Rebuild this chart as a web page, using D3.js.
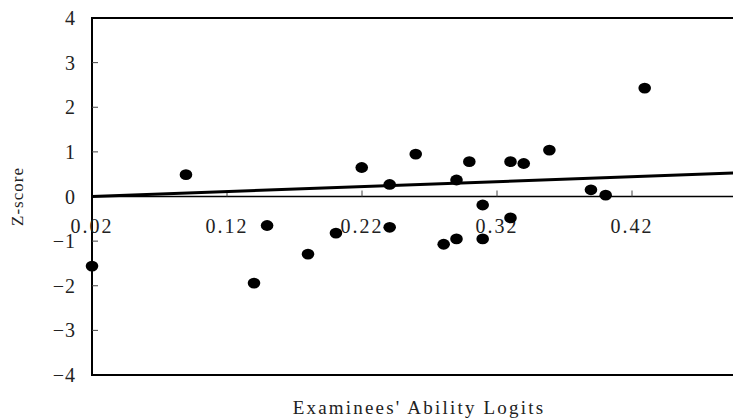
<!DOCTYPE html>
<html>
<head>
<meta charset="utf-8">
<script src="https://cdn.jsdelivr.net/npm/d3@7"></script>
<style>
  body { margin: 0; background: white; }
  text { font-family: 'Liberation Serif', 'DejaVu Serif', serif; fill: #222; }
</style>
</head>
<body>
<svg width="733" height="420"></svg>
<script>
const svg = d3.select('svg');

// ability logits (x) and z-scores (y)
const ability = [0.02, 0.0896, 0.14, 0.1497, 0.18, 0.2007, 0.2198, 0.2405, 0.2405, 0.2598,
  0.2805, 0.29, 0.29, 0.2995, 0.3094, 0.3094, 0.33, 0.33, 0.3398, 0.3588, 0.3896, 0.4005, 0.4294];
const zScore = [-1.56, 0.49, -1.94, -0.65, -1.29, -0.82, 0.65, 0.27, -0.69, 0.95,
  -1.07, -0.95, 0.37, 0.78, -0.19, -0.95, 0.78, -0.48, 0.74, 1.04, 0.15, 0.03, 2.43];

const xTicks = [0.02, 0.12, 0.22, 0.32, 0.42];
const yTicks = [-4, -3, -2, -1, 0, 1, 2, 3, 4];

// trend line: z = slope * (x - 0.02)
const trendX = [0.02, 0.5];
const trendY = [0, 0.53];

const margin = { left: 92, top: 18 };
const plotW = 648, plotH = 357;

const x = d3.scaleLinear().domain([0.02, 0.5]).range([margin.left, margin.left + plotW]);
const y = d3.scaleLinear().domain([-4, 4]).range([margin.top + plotH, margin.top]);

// frame
svg.append('rect')
  .attr('x', margin.left).attr('y', margin.top)
  .attr('width', plotW).attr('height', plotH)
  .attr('fill', 'none').attr('stroke', 'black').attr('stroke-width', 2);

// y ticks + labels
const yAxis = svg.append('g');
yAxis.selectAll('line').data(yTicks.filter(d => d > -4 && d < 4)).enter()
  .append('line')
    .attr('x1', margin.left).attr('x2', margin.left + 6)
    .attr('y1', d => y(d)).attr('y2', d => y(d))
    .attr('stroke', '#444').attr('stroke-width', 1);
yAxis.selectAll('text').data(yTicks).enter()
  .append('text')
    .attr('x', 76).attr('y', d => y(d))
    .attr('dy', '0.35em')
    .attr('text-anchor', 'end')
    .style('font-size', '20px')
    .style('letter-spacing', '1px')
    .text(d => d < 0 ? '\u2212' + Math.abs(d) : d);

// zero line with ticks pointing up
svg.append('line')
  .attr('x1', x(0.02)).attr('x2', margin.left + plotW)
  .attr('y1', y(0)).attr('y2', y(0))
  .attr('stroke', 'black').attr('stroke-width', 1.5);

const xAxis = svg.append('g');
xAxis.selectAll('line').data(xTicks.slice(1)).enter()
  .append('line')
    .attr('x1', d => x(d)).attr('x2', d => x(d))
    .attr('y1', y(0)).attr('y2', y(0) - 6)
    .attr('stroke', '#444').attr('stroke-width', 1);
xAxis.selectAll('text').data(xTicks).enter()
  .append('text')
    .attr('x', d => x(d)).attr('y', y(0) + 36)
    .attr('text-anchor', 'middle')
    .style('font-size', '20px')
    .style('letter-spacing', '2px')
    .text(d => d.toFixed(2));

// trend line
svg.append('line')
  .attr('x1', x(trendX[0])).attr('y1', y(trendY[0]))
  .attr('x2', x(trendX[1])).attr('y2', y(trendY[1]))
  .attr('stroke', 'black').attr('stroke-width', 3);

// points
svg.append('g').selectAll('ellipse')
  .data(d3.range(ability.length))
  .enter().append('ellipse')
    .attr('cx', i => x(ability[i]))
    .attr('cy', i => y(zScore[i]))
    .attr('rx', 6.3).attr('ry', 5.4)
    .attr('fill', 'black');

// axis titles
svg.append('text')
  .attr('x', 419).attr('y', 414)
  .attr('text-anchor', 'middle')
  .style('font-size', '19px')
  .style('letter-spacing', '2.2px')
  .text("Examinees' Ability Logits");

svg.append('text')
  .attr('transform', `translate(23, ${y(0)}) rotate(-90)`)
  .attr('text-anchor', 'middle')
  .style('font-size', '17px')
  .style('letter-spacing', '1px')
  .text('Z-score');
</script>
</body>
</html>
